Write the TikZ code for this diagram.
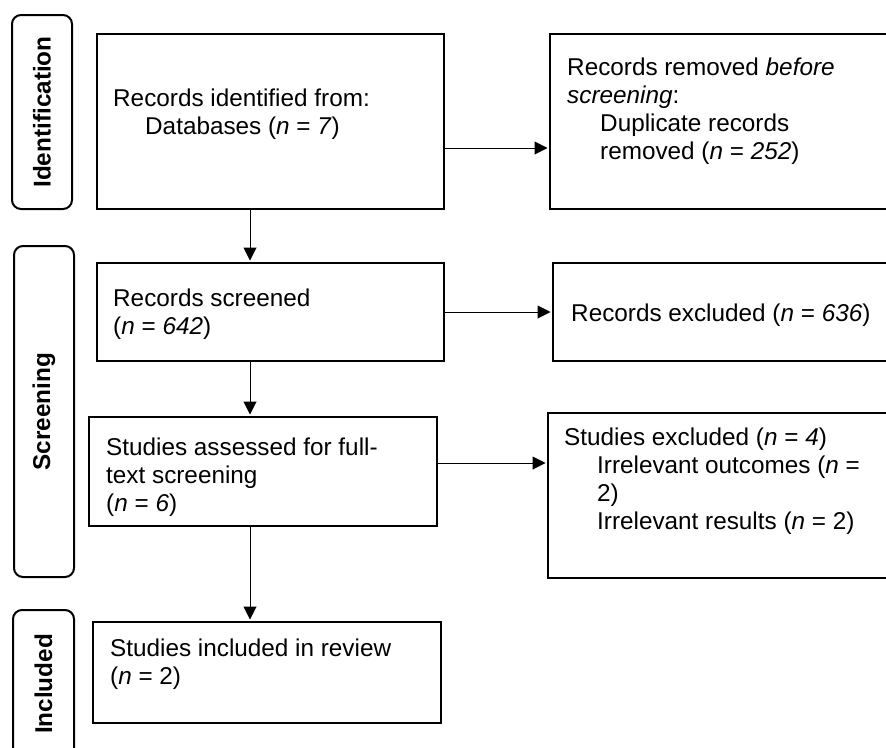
\documentclass[tikz,border=0pt]{standalone}
\usepackage{fontspec}
\setmainfont{Liberation Sans}
\usetikzlibrary{arrows.meta}
\begin{document}
\begin{tikzpicture}[x=1pt,y=-1pt,
  box/.style={draw, line width=2pt, inner sep=0pt},
  lab/.style={draw, line width=2pt, rounded corners=9pt, inner sep=0pt, rotate=90,
    font=\fontsize{24.3}{28.2}\selectfont\bfseries},
  txt/.style={anchor=base west, inner sep=0pt, font=\fontsize{24.3}{28.2}\selectfont},
  arr/.style={line width=1pt, -{Triangle[length=13pt,width=13pt]}, shorten >=1.5pt}]
\useasboundingbox (0,0) rectangle (886,747);
\clip (0,0) rectangle (886,747);
\fill[white] (0,0) rectangle (886,747);

% stage labels
\node[lab, minimum width=194pt, minimum height=60pt] (l1) at (42,112) {Identification};
\node[lab, minimum width=331pt, minimum height=60pt] (l2) at (44,411.5) {Screening};
\node[lab, minimum width=148pt, minimum height=61pt] (l3) at (43.5,684) {Included};

% boxes
\node[box, minimum width=347pt, minimum height=175pt] (b1) at (270.5,121.5) {};
\node[box, minimum width=370pt, minimum height=175pt] (b2) at (735,121.5) {};
\node[box, minimum width=347pt, minimum height=98pt] (b3) at (270.5,312) {};
\node[box, minimum width=367pt, minimum height=98pt] (b4) at (736.5,312) {};
\node[box, minimum width=348pt, minimum height=109pt] (b5) at (263,471.5) {};
\node[box, minimum width=372pt, minimum height=165pt] (b6) at (734,495.5) {};
\node[box, minimum width=348pt, minimum height=101pt] (b7) at (267,672.5) {};

% texts
\node[txt] (t1) at (113,106) {\begin{tabular}[t]{@{}l@{}}Records identified from:\\\hspace*{32pt}Databases (\textit{n} = \textit{7})\end{tabular}};
\node[txt] (t2) at (567,75) {\begin{tabular}[t]{@{}l@{}}Records removed \textit{before}\\\textit{screening}:\\\hspace*{33pt}Duplicate records\\\hspace*{33pt}removed (\textit{n} = \textit{252})\end{tabular}};
\node[txt] (t3) at (113,306) {\begin{tabular}[t]{@{}l@{}}Records screened\\(\textit{n} = \textit{642})\end{tabular}};
\node[txt] (t4) at (571,321) {Records excluded (\textit{n} = \textit{636})};
\node[txt] (t5) at (106,455) {\begin{tabular}[t]{@{}l@{}}Studies assessed for full-\\text screening\\(\textit{n} = \textit{6})\end{tabular}};
\node[txt] (t6) at (564,445) {\begin{tabular}[t]{@{}l@{}}Studies excluded (\textit{n} = \textit{4})\\\hspace*{33pt}Irrelevant outcomes (\textit{n} =\\\hspace*{33pt}2)\\\hspace*{33pt}Irrelevant results (\textit{n} = 2)\end{tabular}};
\node[txt] (t7) at (110,656) {\begin{tabular}[t]{@{}l@{}}Studies included in review\\(\textit{n} = 2)\end{tabular}};

% connectors
\coordinate (cx) at (250,0);
\coordinate (r1) at (0,148);
\coordinate (r2) at (0,312);
\coordinate (r3) at (0,463);
\draw[arr] (b1.south -| cx) -- (b3.north -| cx);
\draw[arr] (b3.south -| cx) -- (b5.north -| cx);
\draw[arr] (b5.south -| cx) -- (b7.north -| cx);
\draw[arr] (b1.east |- r1) -- (b2.west |- r1);
\draw[arr] (b3.east |- r2) -- (b4.west |- r2);
\draw[arr] (b5.east |- r3) -- (b6.west |- r3);
\end{tikzpicture}
\end{document}
